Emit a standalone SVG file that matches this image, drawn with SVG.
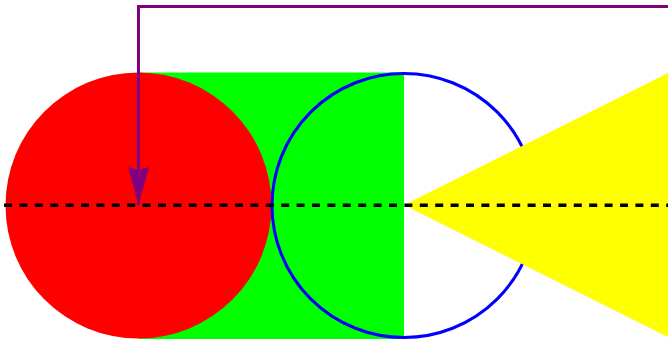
<svg xmlns="http://www.w3.org/2000/svg" width="668" height="339" viewBox="0 0 668 339">
<defs>
<style>
.conn{fill:none;stroke:#800080;stroke-width:3}
.axis{fill:none;stroke:#000;stroke-width:3.5;stroke-dasharray:8 7.4}
</style>
<marker id="arr" markerUnits="userSpaceOnUse" markerWidth="40" markerHeight="22" refX="38" refY="11" orient="auto" viewBox="0 0 40 22">
<path d="M0,0.5 L38,11 L0,21.5 L3,11 Z" fill="#800080"/>
</marker>
</defs>
<rect width="668" height="339" fill="#fff"/>
<g id="green-rect"><rect x="138.5" y="72.5" width="265.5" height="270" fill="#00ff00"/></g>
<g id="red-circle"><circle cx="138.5" cy="205.5" r="133" fill="#ff0000"/></g>
<g id="blue-circle"><circle cx="404" cy="205.5" r="132" fill="none" stroke="#0000ff" stroke-width="3"/></g>
<g id="yellow-triangle"><polygon points="404,205 700,57 700,353" fill="#ffff00"/></g>
<g id="connectors">
<line class="axis" x1="4" y1="205.3" x2="668" y2="205.3"/>
<path class="conn" d="M670,6.5 H138.5 V205" marker-end="url(#arr)"/>
</g>
</svg>
